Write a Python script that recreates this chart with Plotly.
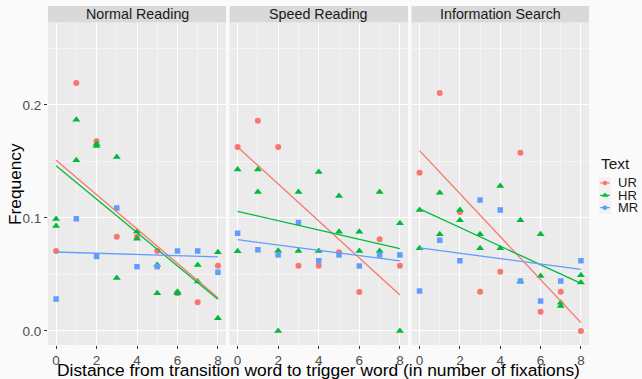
import plotly.graph_objects as go

# ---------------- data ----------------
panels = ["Normal Reading", "Speed Reading", "Information Search"]
texts = ["UR", "HR", "MR"]
distance = [0, 1, 2, 3, 4, 5, 6, 7, 8]
hr_distance = [0, 0, 1, 1, 2, 2, 3, 3, 4, 4, 5, 5, 6, 6, 7, 7, 8, 8]

# Normal Reading
nr_ur = [0.0708, 0.2195, 0.168, 0.0835, 0.0835, 0.0708, 0.0333, 0.0254, 0.0578]
nr_hr = [0.099, 0.093, 0.187, 0.151, 0.1655, 0.1637, 0.154, 0.0469, 0.088, 0.0817,
         0.0584, 0.0333, 0.0348, 0.0333, 0.0584, 0.0437, 0.0696, 0.0112]
nr_mr = [0.0283, 0.0994, 0.066, 0.1088, 0.0569, 0.0569, 0.0708, 0.0708, 0.052]

# Speed Reading
sr_ur = [0.1628, 0.186, 0.1628, 0.0578, 0.0578, 0.0696, 0.0345, 0.0811, 0.0578]
sr_hr = [0.143, 0.0705, 0.143, 0.123, 0.071, 0.0, 0.123, 0.0708, 0.1407, 0.0708,
         0.1195, 0.0879, 0.0879, 0.0708, 0.123, 0.0708, 0.0953, 0.0]
sr_mr = [0.0864, 0.072, 0.0673, 0.0959, 0.0622, 0.0673, 0.0575, 0.0673, 0.0673]

# Information Search
is_ur = [0.140, 0.2106, 0.1053, 0.0348, 0.0525, 0.1578, 0.0171, 0.0348, 0.0]
is_hr = [0.107, 0.0732, 0.1224, 0.0856, 0.107, 0.098, 0.0856, 0.0732, 0.1283, 0.0732,
         0.098, 0.0437, 0.0856, 0.0487, 0.025, 0.0221, 0.0493, 0.0428]
is_mr = [0.0354, 0.0803, 0.0622, 0.1159, 0.107, 0.0442, 0.0265, 0.0442, 0.0622]

# Linear fits (value at distance 0 and at distance 8)
fit_x = [0, 8]
nr_fit_ur = [0.151, 0.0295]
nr_fit_hr = [0.1463, 0.028]
nr_fit_mr = [0.0699, 0.0655]
sr_fit_ur = [0.1628, 0.0319]
sr_fit_hr = [0.1059, 0.0729]
sr_fit_mr = [0.0808, 0.062]
is_fit_ur = [0.1596, 0.0074]
is_fit_hr = [0.108, 0.0422]
is_fit_mr = [0.0735, 0.0546]

x_ticks = [0, 2, 4, 6, 8]
y_ticks = [0.0, 0.1, 0.2]
y_ticklabels = ["0.0", "0.1", "0.2"]

# ---------------- style ----------------
colors = {"UR": "#F8766D", "HR": "#00BA38", "MR": "#619CFF"}
symbols = {"UR": "circle", "HR": "triangle-up", "MR": "square"}
msizes = {"UR": 6, "HR": 7, "MR": 5.5}
FONT = "Liberation Sans, Arial, sans-serif"

W, H = 642, 379
ML, MR_, MT, MB = 48, 0, 6, 34
PW = W - ML - MR_
PH = H - MT - MB


def px_x(px):
    return (px - ML) / PW


def px_y(py):
    return (H - MB - py) / PH


panel_px = [(48, 226), (229.5, 408), (411.5, 589)]
domains = [[px_x(a), px_x(b)] for a, b in panel_px]
y_top = px_y(22.5)

data = {
    0: {"UR": nr_ur, "HR": nr_hr, "MR": nr_mr},
    1: {"UR": sr_ur, "HR": sr_hr, "MR": sr_mr},
    2: {"UR": is_ur, "HR": is_hr, "MR": is_mr},
}
fits = {
    0: {"UR": nr_fit_ur, "HR": nr_fit_hr, "MR": nr_fit_mr},
    1: {"UR": sr_fit_ur, "HR": sr_fit_hr, "MR": sr_fit_mr},
    2: {"UR": is_fit_ur, "HR": is_fit_hr, "MR": is_fit_mr},
}

fig = go.Figure()
for p in range(3):
    xa = "x" if p == 0 else f"x{p+1}"
    ya = "y" if p == 0 else f"y{p+1}"
    for t in texts:
        xs = hr_distance if t == "HR" else distance
        fig.add_trace(go.Scatter(
            x=xs, y=data[p][t], mode="markers", xaxis=xa, yaxis=ya,
            marker=dict(color=colors[t], symbol=symbols[t], size=msizes[t],
                        line=dict(width=0)),
            showlegend=False, hoverinfo="skip"))
    for t in texts:
        fig.add_trace(go.Scatter(
            x=fit_x, y=fits[p][t], mode="lines", xaxis=xa, yaxis=ya,
            line=dict(color=colors[t], width=1.3),
            showlegend=False, hoverinfo="skip"))

# ---- legend drawn on a small hidden axis (ggplot-like compact keys) ----
for i, t in enumerate(texts):
    fig.add_trace(go.Scatter(
        x=[0.5], y=[i], mode="markers", xaxis="x4", yaxis="y4",
        marker=dict(color="#F2F2F2", symbol="square", size=12, line=dict(width=0)),
        showlegend=False, hoverinfo="skip"))
for i, t in enumerate(texts):
    fig.add_trace(go.Scatter(
        x=[0.1, 0.9], y=[i, i], mode="lines", xaxis="x4", yaxis="y4",
        line=dict(color=colors[t], width=1.2),
        showlegend=False, hoverinfo="skip"))
    fig.add_trace(go.Scatter(
        x=[0.5], y=[i], mode="markers", xaxis="x4", yaxis="y4",
        marker=dict(color=colors[t], symbol=symbols[t], size=msizes[t] - 1.5,
                    line=dict(width=0)),
        showlegend=False, hoverinfo="skip"))

axis_common = dict(
    range=[-0.4, 8.4], tickvals=x_ticks, ticks="outside", ticklen=3,
    tickcolor="#333333", tickwidth=1,
    tickfont=dict(family=FONT, size=13.5, color="#4D4D4D"),
    showgrid=True, gridcolor="#FFFFFF", gridwidth=1, zeroline=False,
    showline=False, fixedrange=True,
    minor=dict(tickvals=[1, 3, 5, 7], showgrid=True, gridcolor="#F4F4F4",
               gridwidth=0.6, ticks=""),
)
yaxis_common = dict(
    range=[-0.0124, 0.273], tickvals=y_ticks, ticktext=y_ticklabels,
    ticks="outside", ticklen=3, tickcolor="#333333", tickwidth=1,
    tickfont=dict(family=FONT, size=13.5, color="#4D4D4D"),
    showgrid=True, gridcolor="#FFFFFF", gridwidth=1, zeroline=False,
    showline=False, fixedrange=True,
    minor=dict(tickvals=[0.05, 0.15, 0.25], showgrid=True, gridcolor="#F4F4F4",
               gridwidth=0.6, ticks=""),
    domain=[0, y_top],
)

layout = dict(
    width=W, height=H,
    margin=dict(l=ML, r=MR_, t=MT, b=MB, pad=0, autoexpand=False),
    paper_bgcolor="#FAFAFA", plot_bgcolor="rgba(0,0,0,0)",
    font=dict(family=FONT, color="#1A1A1A"),
    showlegend=False,
)
for p in range(3):
    ax = dict(axis_common, domain=domains[p])
    ay = dict(yaxis_common)
    if p == 0:
        layout["xaxis"] = ax
        layout["yaxis"] = ay
    else:
        ax["anchor"] = f"y{p+1}"
        ay["anchor"] = f"x{p+1}"
        ay["showticklabels"] = False
        ay["ticks"] = ""
        layout[f"xaxis{p+1}"] = ax
        layout[f"yaxis{p+1}"] = ay

# legend axis: keys centred at x=605, rows at y=183, 195.3, 207.6
layout["xaxis4"] = dict(domain=[px_x(599), px_x(611)], range=[0, 1], anchor="y4",
                        visible=False, fixedrange=True)
layout["yaxis4"] = dict(domain=[px_y(213.8), px_y(176.8)], range=[2.5, -0.5],
                        anchor="x4", visible=False, fixedrange=True)
fig.update_layout(**layout)

shapes = []
annotations = []
for p in range(3):
    # panel background
    shapes.append(dict(type="rect", xref="paper", yref="paper",
                       x0=domains[p][0], x1=domains[p][1], y0=0, y1=y_top,
                       fillcolor="#EBEBEB", line=dict(width=0), layer="below"))
    # strip
    shapes.append(dict(type="rect", xref="paper", yref="paper",
                       x0=domains[p][0], x1=domains[p][1], y0=y_top, y1=1.0,
                       fillcolor="#D9D9D9", line=dict(width=0), layer="below"))
    annotations.append(dict(text=panels[p], xref="paper", yref="paper",
                            x=(domains[p][0] + domains[p][1]) / 2,
                            y=(y_top + 1.0) / 2, xanchor="center", yanchor="middle",
                            showarrow=False,
                            font=dict(family=FONT, size=14.3, color="#1A1A1A")))
# legend title and labels
annotations.append(dict(text="Text", xref="paper", yref="paper",
                        x=px_x(599), y=px_y(163), xanchor="left", yanchor="middle",
                        showarrow=False,
                        font=dict(family=FONT, size=15.5, color="#1A1A1A")))
for i, t in enumerate(texts):
    annotations.append(dict(text=t, xref="paper", yref="paper",
                            x=px_x(615.5), y=px_y(183 + 12.3 * i),
                            xanchor="left", yanchor="middle", showarrow=False,
                            font=dict(family=FONT, size=13, color="#1A1A1A")))
annotations.append(dict(text="Distance from transition word to trigger word (in number of fixations)",
                        xref="paper", yref="paper", x=px_x(318.5), y=px_y(370.3),
                        xanchor="center", yanchor="middle", showarrow=False,
                        font=dict(family=FONT, size=17.4, color="#000000")))
annotations.append(dict(text="Frequency", xref="paper", yref="paper",
                        x=px_x(15), y=px_y(184), xanchor="center", yanchor="middle",
                        textangle=-90, showarrow=False,
                        font=dict(family=FONT, size=17.3, color="#000000")))
fig.update_layout(shapes=shapes, annotations=annotations)

fig.write_html("out.html", config={"displayModeBar": False},
               post_script="document.body.style.margin='0';"
                           "document.body.style.background='#FAFAFA';")
